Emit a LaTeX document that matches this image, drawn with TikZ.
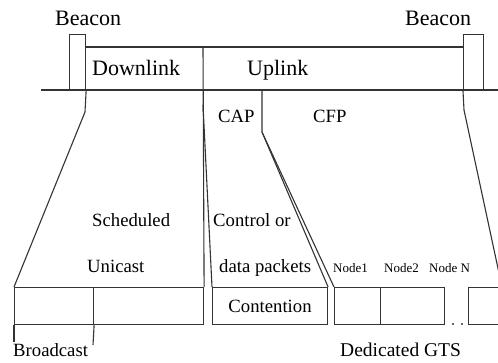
\documentclass[tikz,border=0pt]{standalone}
\usepackage{fontspec}
\setmainfont{Liberation Serif}
\begin{document}
\begin{tikzpicture}[x=1pt,y=-1pt,
  ln/.style={draw=black!80, line width=1.1pt},
  slot/.style={ln, rectangle, inner sep=0pt, anchor=north west, minimum height=37},
  lbl/.style={inner sep=0pt, anchor=base west, text=black},
  big/.style={lbl, font=\fontsize{22}{24}\selectfont},
  mid/.style={lbl, font=\fontsize{18.7}{20}\selectfont},
  tiny/.style={lbl, font=\fontsize{13}{14}\selectfont},
  dotmark/.style={circle, fill=black!80, inner sep=0pt, minimum size=2.2},
]
\useasboundingbox (0,0) rectangle (498,363);

% beacon slots at both ends of the superframe
\node[slot, minimum width=16, minimum height=56] (bcnL) at (69,34) {};
\node[slot, minimum width=20, minimum height=56] (bcnR) at (463,34) {};

% expanded slots below
\node[slot, minimum width=79] (bcast) at (14,287) {};
\node[slot, minimum width=110] (ucast) at (93,287) {};
\node[slot, minimum width=115, font=\fontsize{18.7}{20}\selectfont] (cont) at (212,287) {Contention};
\node[slot, minimum width=46] (gts1) at (334,287) {};
\node[slot, minimum width=64] (gts2) at (380,287) {};
\node[slot, minimum width=42] (gtsN) at (468,287) {};

% helper points
\coordinate (lineL) at (41,90);
\coordinate (lineR) at (498,90);
\coordinate (frameL) at (85,47);
\coordinate (frameR) at (463,47);
\coordinate (frameMid) at (203,47);
\coordinate (kinkL) at (85,112);
\coordinate (kinkC) at (203,105);
\coordinate (upTop) at (262,90);
\coordinate (kinkU) at (262,132);
\coordinate (kinkR) at (464,110);
\coordinate (farR) at (502,287);
\coordinate (tickA) at (14,342);
\coordinate (tickB) at (93,345);

% time axis and superframe outline
\draw[ln] (lineL) -- (lineR);
\draw[ln] (frameL) -- (frameR);
\draw[ln] (frameMid) -- (ucast.north east);
\draw[ln] (kinkC) -- (cont.north west);
\draw[ln] (upTop) -- (kinkU) -- (cont.north east);
\draw[ln] (kinkU) -- (gts1.north west);
\draw[ln] (bcnL.south east) -- (kinkL) -- (bcast.north west);
\draw[ln] (bcnR.south west) -- (kinkR) -- (farR);
\draw[ln] (bcast.south west) -- (tickA);
\draw[ln] (bcast.south east) -- (tickB);

% labels
\node[big] (beaconL) at (55,25.5) {Beacon};
\node[big] (beaconR) at (405,25.5) {Beacon};
\node[big] (down) at (92,76) {Downlink};
\node[big] (up) at (247,76) {Uplink};
\node[mid] (cap) at (218,123) {CAP};
\node[mid] (cfp) at (313,123) {CFP};
\node[mid] (sched) at (92,227) {Scheduled};
\node[mid] (uni) at (87,273) {Unicast};
\node[mid] (ctrl) at (213,227) {Control or};
\node[mid] (data) at (219,273) {data packets};
\node[tiny] (n1) at (333,273) {Node1};
\node[tiny] (n2) at (384,273) {Node2};
\node[tiny] (nN) at (429,273) {Node N};
\node[mid, font=\fontsize{19.5}{21}\selectfont] (ded) at (340,356) {Dedicated GTS};
\node[mid] (bc) at (13,356) {Broadcast};

% gap marks between GTS slots
\node[dotmark] (d1) at (453,324) {};
\node[dotmark] (d2) at (462,324) {};
\end{tikzpicture}
\end{document}
